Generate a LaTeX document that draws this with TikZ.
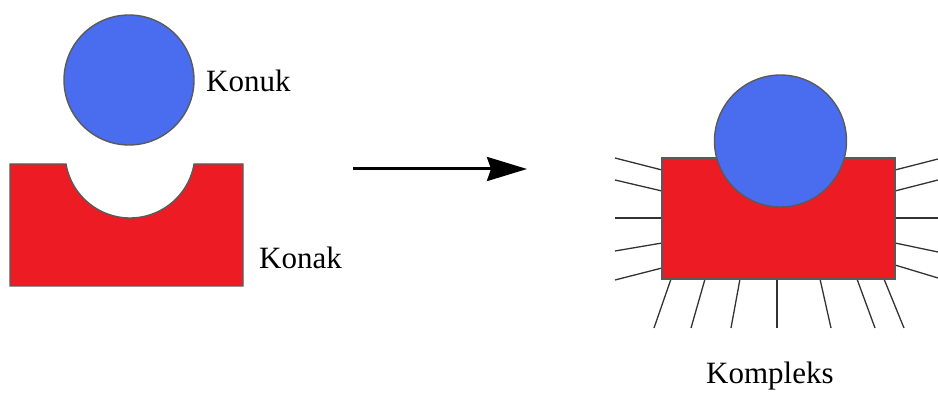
\documentclass[tikz,border=0pt]{standalone}
\usepackage{fontspec}
\setmainfont{Liberation Serif}
\usetikzlibrary{arrows.meta}
\definecolor{hostred}{HTML}{ED1C24}
\definecolor{guestblue}{HTML}{4A6CEE}
\definecolor{edgegray}{HTML}{5A5A5A}
\tikzset{
  redpart/.style={fill=hostred, draw=edgegray, line width=1.4pt},
  bluepart/.style={fill=guestblue, draw=edgegray, line width=1.4pt},
  ray/.style={draw=black!80, line width=1.3pt},
  lbl/.style={font=\fontsize{31}{37}\selectfont, inner sep=0pt, anchor=base west},
}
\begin{document}
\begin{tikzpicture}[x=1pt,y=-1pt]
\useasboundingbox (0,0) rectangle (938,398);
% left: guest
\fill[bluepart] (129,80) circle[radius=65pt];
\node[lbl] (konuk) at (206,92) {Konuk};
% left: host with notch
\path[redpart] (10,164) -- (66,164) arc[start angle=189.75, end angle=350.25, radius=65pt] -- (243,164) -- (243,286) -- (10,286) -- cycle;
\node[lbl] (konak) at (259,269) {Konak};
% arrow
\coordinate (a1) at (353,169);
\coordinate (a2) at (527,169);
\draw[line width=3pt, -{Stealth[length=40pt,width=24pt,inset=4pt]}] (a1) -- (a2);
% right: complex
\foreach \ya/\yb in {158/170,180/191,218/218,251/243,280/268}{
  \draw[ray] (615,\ya) -- (662,\yb);
}
\foreach \ya/\yb in {159/170,180/191,218/218,252/243,278/265}{
  \draw[ray] (938,\ya) -- (895,\yb);
}
\foreach \xa/\xb in {671/654,705/691,740/731,777/777,820/831,857/875,884/904}{
  \draw[ray] (\xa,279) -- (\xb,328);
}
\path[redpart] (662,158) rectangle (895,279);
\path[bluepart] (780.5,141) circle[radius=66pt];
\node[lbl] (kompleks) at (706,383) {Kompleks};
\end{tikzpicture}
\end{document}
